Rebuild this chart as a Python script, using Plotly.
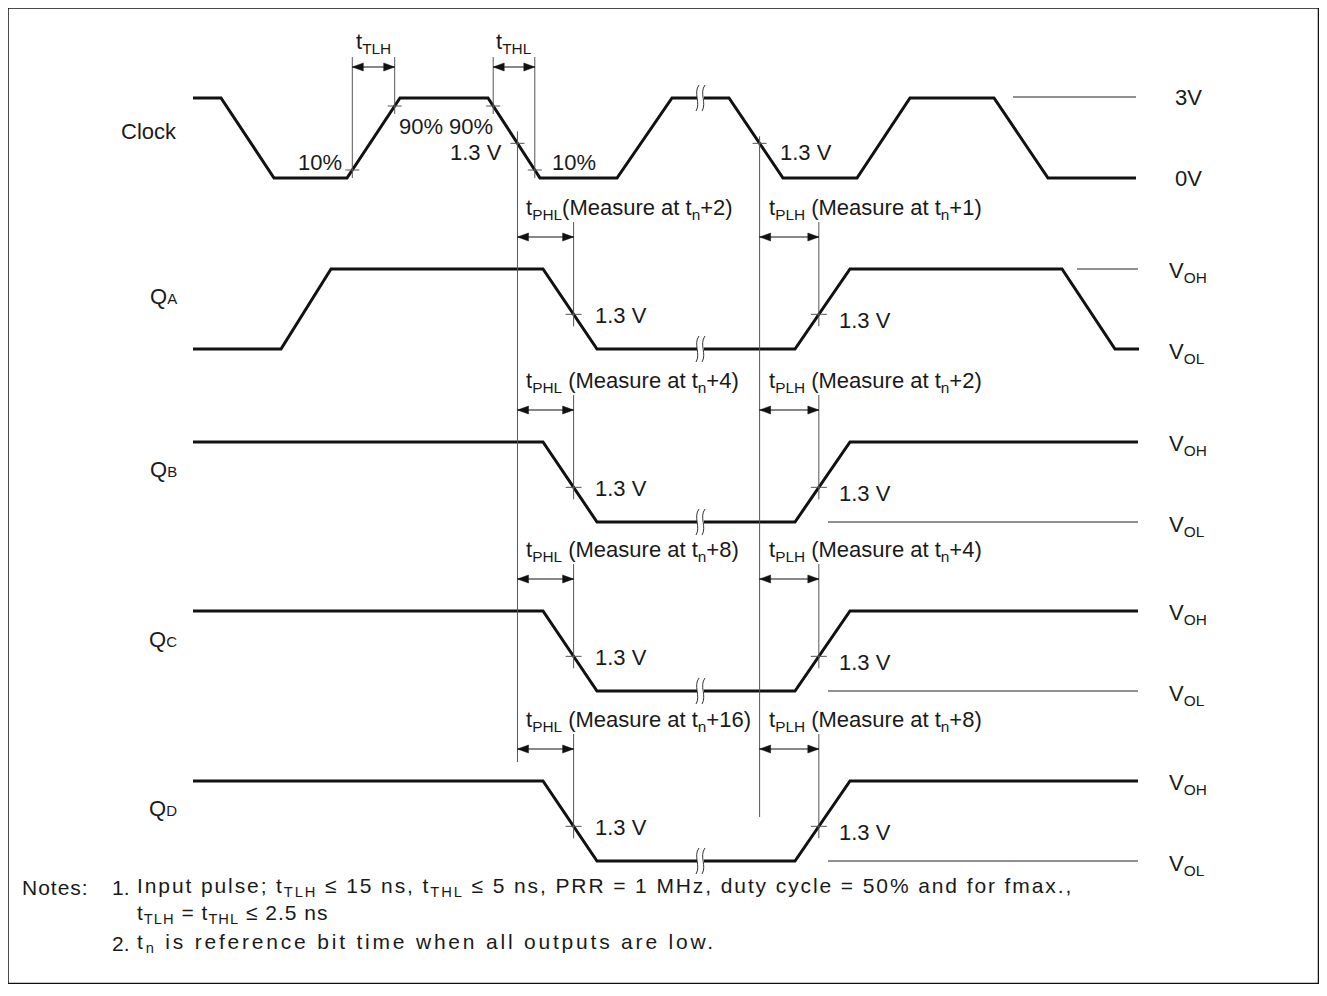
import plotly.graph_objects as go

W, H = 1327, 996
PAGE_MARGIN = 8   # default body margin of the written html page

# ---- waveform data: vertex times (horizontal px units) and logic level (1 = high, 0 = low)
clock_t = [193, 221, 274, 347, 400, 488, 540, 617, 672, 729, 783, 857, 910, 994, 1048, 1136]
clock_v = [1, 1, 0, 0, 1, 1, 0, 0, 1, 1, 0, 0, 1, 1, 0, 0]
qa_t = [193, 281, 331, 543, 597, 795, 850, 1062, 1115, 1139]
qa_v = [0, 0, 1, 1, 0, 0, 1, 1, 0, 0]
qb_t = [193, 543, 597, 795, 850, 1138]
qb_v = [1, 1, 0, 0, 1, 1]
qc_t = [193, 543, 597, 795, 850, 1138]
qc_v = [1, 1, 0, 0, 1, 1]
qd_t = [193, 543, 597, 795, 850, 1138]
qd_v = [1, 1, 0, 0, 1, 1]

row_names = ["Clock",
             "Q<span style='font-size:15px'>A</span>",
             "Q<span style='font-size:15px'>B</span>",
             "Q<span style='font-size:15px'>C</span>",
             "Q<span style='font-size:15px'>D</span>"]
high_labels = ["3V", "V<sub>OH</sub>", "V<sub>OH</sub>", "V<sub>OH</sub>", "V<sub>OH</sub>"]
low_labels = ["0V", "V<sub>OL</sub>", "V<sub>OL</sub>", "V<sub>OL</sub>", "V<sub>OL</sub>"]
phl_labels = ["t<sub>PHL</sub>(Measure at t<sub>n</sub>+2)",
              "t<sub>PHL</sub> (Measure at t<sub>n</sub>+4)",
              "t<sub>PHL</sub> (Measure at t<sub>n</sub>+8)",
              "t<sub>PHL</sub> (Measure at t<sub>n</sub>+16)"]
plh_labels = ["t<sub>PLH</sub> (Measure at t<sub>n</sub>+1)",
              "t<sub>PLH</sub> (Measure at t<sub>n</sub>+2)",
              "t<sub>PLH</sub> (Measure at t<sub>n</sub>+4)",
              "t<sub>PLH</sub> (Measure at t<sub>n</sub>+8)"]
v_thresh = 1.3 / 3.0          # 1.3 V of a 3 V swing
pct_lo, pct_hi = 0.10, 0.90
notes_lines = [
    "Input pulse; t<sub>TLH</sub> \u2264 15 ns, t<sub>THL</sub> \u2264 5 ns, PRR = 1 MHz, duty cycle = 50% and for fmax.,",
    "t<sub>TLH</sub> = t<sub>THL</sub> \u2264 2.5 ns",
    "t<sub>n</sub> is reference bit time when all outputs are low.",
]

# ---- layout constants
row_high = [98, 269, 442, 611, 781]
swing = 80
break_x = 698
break_level = [1, 0, 0, 0, 0]

waves_t = [clock_t, qa_t, qb_t, qc_t, qd_t]
waves_v = [clock_v, qa_v, qb_v, qc_v, qd_v]

FONT = "Liberation Sans, Arial, Helvetica, sans-serif"
TXT = "#1a1a1a"
THIN = "#555555"
FS = 22


def ylev(row, lv):
    return row_high[row] + swing * (1 - lv)


def cross_x(t, v, i, frac):
    return t[i] + (frac - v[i]) / (v[i + 1] - v[i]) * (t[i + 1] - t[i])


fig = go.Figure()
shapes = []
ann = []


def line(x0, y0, x1, y1, color=THIN, width=1):
    shapes.append(dict(type="line", x0=x0, y0=y0, x1=x1, y1=y1,
                       line=dict(color=color, width=width), layer="above"))


def text(x, y, s, xanchor="left", size=FS, family=FONT):
    ann.append(dict(x=x, y=y, text=s, showarrow=False, xanchor=xanchor, yanchor="middle",
                    font=dict(family=family, size=size, color=TXT), xref="x", yref="y"))


def arrow(xa, xb, y):
    line(xa, y, xb, y, color="#111", width=1.2)
    L, hw = 11, 4
    shapes.append(dict(type="path", path=f"M {xa},{y} L {xa+L},{y-hw} L {xa+L},{y+hw} Z",
                       fillcolor="#111", line=dict(color="#111", width=0.5), layer="above"))
    shapes.append(dict(type="path", path=f"M {xb},{y} L {xb-L},{y-hw} L {xb-L},{y+hw} Z",
                       fillcolor="#111", line=dict(color="#111", width=0.5), layer="above"))


def tick(x, y, half=7):
    line(x - half, y, x + half, y, color=THIN, width=1)


# ---- waveforms
for r, (t, v) in enumerate(zip(waves_t, waves_v)):
    fig.add_trace(go.Scatter(x=t, y=[ylev(r, lv) for lv in v], mode="lines",
                             line=dict(color="#111", width=3), hoverinfo="skip", showlegend=False))

# ---- break squiggles
for r, lv in enumerate(break_level):
    y = ylev(r, lv)
    shapes.append(dict(type="rect", x0=break_x - 1, x1=break_x + 6, y0=y - 3, y1=y + 3,
                       fillcolor="white", line=dict(width=0), layer="above"))
    for dx in (0, 6):
        x0 = break_x + dx - 1
        shapes.append(dict(type="path",
                           path=f"M {x0+2},{y-13} C {x0-4},{y-5} {x0+4},{y+5} {x0-1},{y+13}",
                           line=dict(color="#333", width=1), layer="above"))

# ---- clock measurement points
xr10 = cross_x(clock_t, clock_v, 3, pct_lo); yr10 = ylev(0, pct_lo)
xr90 = cross_x(clock_t, clock_v, 3, pct_hi); yr90 = ylev(0, pct_hi)
xf90 = cross_x(clock_t, clock_v, 5, pct_hi); yf90 = ylev(0, pct_hi)
xf10 = cross_x(clock_t, clock_v, 5, pct_lo); yf10 = ylev(0, pct_lo)
xf13 = cross_x(clock_t, clock_v, 5, v_thresh); yf13 = ylev(0, v_thresh)
xg13 = cross_x(clock_t, clock_v, 9, v_thresh); yg13 = ylev(0, v_thresh)

top_y = 57
for (x, y) in [(xr10, yr10), (xr90, yr90), (xf90, yf90), (xf10, yf10)]:
    line(x, top_y, x, y + 8)
    tick(x, y)
arrow(xr10, xr90, 67)
arrow(xf90, xf10, 67)
text((xr10 + xr90) / 2, 43, "t<sub>TLH</sub>", xanchor="center")
text((xf90 + xf10) / 2, 43, "t<sub>THL</sub>", xanchor="center")

# long reference lines from clock 1.3 V points
line(xf13, yf13 - 12, xf13, 762)
tick(xf13, yf13)
line(xg13, yg13 - 7, xg13, 817)
tick(xg13, yg13)

text(xr10 - 8, yr10 - 8, "10%", xanchor="right")
text(xr90 + 2, yr90 + 20, "90%")
text(xf90 + 2, yf90 + 20, "90%", xanchor="right")
text(xf13 - 13, yf13 + 9, "1.3 V", xanchor="right")
text(xf10 + 15, yf10 - 8, "10%")
text(xg13 + 18, yg13 + 9, "1.3 V")

# ---- output rows
for k in range(4):
    r = k + 1
    t, v = waves_t[r], waves_v[r]
    fi = [i for i in range(len(v) - 1) if v[i] == 1 and v[i + 1] == 0 and t[i] > 500][0]
    ri = [i for i in range(len(v) - 1) if v[i] == 0 and v[i + 1] == 1 and t[i] > 700][0]
    xf = cross_x(t, v, fi, v_thresh)
    xr = cross_x(t, v, ri, v_thresh)
    yc = ylev(r, v_thresh)
    hy = row_high[r]
    for x in (xf, xr):
        line(x, hy - 47, x, yc + 12)
        tick(x, yc, 8)
    arrow(xf13, xf, hy - 32)
    arrow(xg13, xr, hy - 32)
    text(xf13 + 7, hy - 60, phl_labels[k])
    text(xg13 + 7, hy - 60, plh_labels[k])
    text(xf + 19, yc + 1, "1.3 V")
    text(xr + 18, yc + 6, "1.3 V")

# ---- reference level lines on the right
line(1013, ylev(0, 1) - 1, 1136, ylev(0, 1) - 1, color="#222")
line(1077, ylev(1, 1), 1138, ylev(1, 1), color="#222")
for r in (2, 3, 4):
    line(828, ylev(r, 0), 1138, ylev(r, 0), color="#222")

# ---- row names and level labels
name_dy = [33, 27, 27, 28, 27]
for r in range(5):
    text(179, row_high[r] + name_dy[r], row_names[r], xanchor="right")
    if r == 0:
        text(1173, ylev(r, 1) - 1, high_labels[r])
        text(1173, ylev(r, 0), low_labels[r])
    else:
        text(1167, ylev(r, 1) + 3, high_labels[r])
        text(1167, ylev(r, 0) + 4, low_labels[r])

# ---- notes
def spaced(s, px):
    return f"<span style='letter-spacing:{px}px'>{s}</span>"

text(20, 887, spaced("Notes:", 1.0), size=21)
text(110, 887, "1.", size=21)
text(135, 887, spaced(notes_lines[0], 1.9), size=21)
text(135, 914, spaced(notes_lines[1], 1.0), size=21)
text(110, 943, "2.", size=21)
text(135, 943, spaced(notes_lines[2], 2.8), size=21)

# ---- frame
shapes.append(dict(type="rect", x0=8, y0=8, x1=1318.5, y1=983.5,
                   line=dict(color="#111", width=1.5), layer="above"))

# the page body adds an 8px margin on each side: size the figure and the
# ranges so that one data unit equals one page pixel, without scrollbars
PW = W - 2 * PAGE_MARGIN
PH = H - 2 * PAGE_MARGIN - 4
fig.update_layout(
    width=PW, height=PH,
    margin=dict(l=0, r=0, t=0, b=0),
    paper_bgcolor="white", plot_bgcolor="white",
    xaxis=dict(range=[PAGE_MARGIN, PAGE_MARGIN + PW], visible=False, fixedrange=True),
    yaxis=dict(range=[PAGE_MARGIN + PH, PAGE_MARGIN], visible=False, fixedrange=True),
    shapes=shapes, annotations=ann, showlegend=False,
)
fig.write_html("out.html")
